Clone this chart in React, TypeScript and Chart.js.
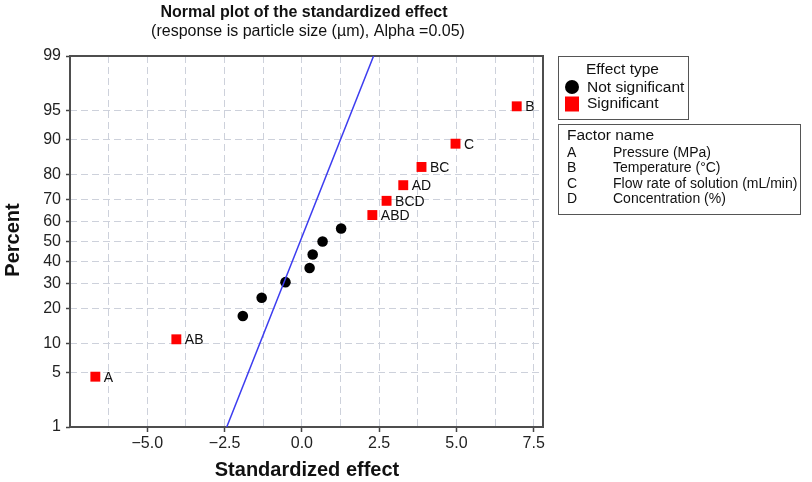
import { useEffect, useRef } from 'react';
import { Chart, registerables } from 'chart.js';

Chart.register(...registerables);

// Significant effects (labelled red squares)
const sigLabels = ['A', 'AB', 'ABD', 'BCD', 'AD', 'BC', 'C', 'B'];
const sigEffects = [-6.68, -4.06, 2.28, 2.74, 3.28, 3.87, 4.97, 6.95];
const sigPercents = [4.5, 11.0, 63.0, 69.5, 76.0, 82.5, 89.0, 95.5];

// Non-significant effects (black dots)
const nsEffects = [-1.91, -1.3, -0.53, 0.25, 0.35, 0.67, 1.27];
const nsPercents = [17.5, 24.0, 30.5, 37.0, 43.5, 50.0, 56.5];

// Reference line endpoints
const fitEffects = [-2.43, 2.32];
const fitPercents = [1, 99];

// Axis ticks
const yTickPercents = [1, 5, 10, 20, 30, 40, 50, 60, 70, 80, 90, 95, 99];
const xGridValues = [-6.25, -5, -3.75, -2.5, -1.25, 0, 1.25, 2.5, 3.75, 5, 6.25, 7.5];
const xTickLabels = [-5, -2.5, 0, 2.5, 5, 7.5];

// Factor legend
const factorCodes = ['A', 'B', 'C', 'D'];
const factorNames = ['Pressure (MPa)', 'Temperature (\u00B0C)', 'Flow rate of solution (mL/min)', 'Concentration (%)'];

const FONT = '"Liberation Sans", Arial, Helvetica, sans-serif';
const GRID = '#cdd1db';

// Inverse of the standard normal CDF (Acklam), for the probability axis
function probit(pct: number): number {
  const p = pct / 100;
  const a = [-3.969683028665376e1, 2.209460984245205e2, -2.759285104469687e2, 1.38357751867269e2, -3.066479806614716e1, 2.506628277459239];
  const b = [-5.447609879822406e1, 1.615858368580409e2, -1.556989798598866e2, 6.680131188771972e1, -1.328068155288572e1];
  const c = [-7.784894002430293e-3, -3.223964580411365e-1, -2.400758277161838, -2.549732539343734, 4.374664141464968, 2.938163982698783];
  const d = [7.784695709041462e-3, 3.224671290700398e-1, 2.445134137142996, 3.754408661907416];
  const pl = 0.02425;
  if (p < pl) {
    const q = Math.sqrt(-2 * Math.log(p));
    return (((((c[0] * q + c[1]) * q + c[2]) * q + c[3]) * q + c[4]) * q + c[5]) / ((((d[0] * q + d[1]) * q + d[2]) * q + d[3]) * q + 1);
  }
  if (p <= 1 - pl) {
    const q = p - 0.5;
    const r = q * q;
    return ((((((a[0] * r + a[1]) * r + a[2]) * r + a[3]) * r + a[4]) * r + a[5]) * q) / (((((b[0] * r + b[1]) * r + b[2]) * r + b[3]) * r + b[4]) * r + 1);
  }
  const q = Math.sqrt(-2 * Math.log(1 - p));
  return -(((((c[0] * q + c[1]) * q + c[2]) * q + c[3]) * q + c[4]) * q + c[5]) / ((((d[0] * q + d[1]) * q + d[2]) * q + d[3]) * q + 1);
}

const isLabeledX = (v: number) => xTickLabels.some((t) => Math.abs(t - v) < 1e-6);
const fmtX = (v: number) => (v < 0 ? '\u2212' : '') + Math.abs(v).toFixed(1);

const frameAndText = {
  id: 'frameAndText',
  beforeDatasetsDraw(chart: any) {
    const { ctx, chartArea: a } = chart;
    ctx.save();
    ctx.strokeStyle = '#4e4e4e';
    ctx.lineWidth = 2;
    ctx.strokeRect(a.left, a.top, a.right - a.left, a.bottom - a.top);
    ctx.restore();
  },
  afterDatasetsDraw(chart: any) {
    const { ctx } = chart;
    const meta = chart.getDatasetMeta(2);
    ctx.save();
    ctx.fillStyle = '#111';
    ctx.font = `14px ${FONT}`;
    ctx.textAlign = 'left';
    ctx.textBaseline = 'middle';
    meta.data.forEach((el: any, i: number) => {
      ctx.fillText(sigLabels[i], el.x + 8.5, el.y + 1);
    });
    ctx.restore();
  },
  afterDraw(chart: any) {
    const { ctx } = chart;
    ctx.save();
    ctx.fillStyle = '#111';
    ctx.textBaseline = 'middle';
    ctx.textAlign = 'center';

    // Titles
    ctx.font = `bold 16px ${FONT}`;
    ctx.fillText('Normal plot of the standardized effect', 304, 12.5);
    ctx.font = `16px ${FONT}`;
    ctx.fillText('(response is particle size (\u00B5m), Alpha =0.05)', 308, 32);

    // Axis titles
    ctx.font = `bold 20px ${FONT}`;
    ctx.fillText('Standardized effect', 307, 470);
    ctx.save();
    ctx.translate(13, 240);
    ctx.rotate(-Math.PI / 2);
    ctx.fillText('Percent', 0, 0);
    ctx.restore();

    // Effect type legend
    ctx.strokeStyle = '#555';
    ctx.lineWidth = 1;
    ctx.strokeRect(558.5, 56.5, 130, 63);
    ctx.textAlign = 'left';
    ctx.font = `15.5px ${FONT}`;
    ctx.fillText('Effect type', 586, 70);
    ctx.fillText('Not significant', 587, 87.5);
    ctx.fillText('Significant', 587, 104);
    ctx.fillStyle = '#000';
    ctx.beginPath();
    ctx.arc(572, 87, 7, 0, Math.PI * 2);
    ctx.fill();
    ctx.fillStyle = '#ff0000';
    ctx.fillRect(565, 96.5, 14, 15);

    // Factor name legend
    ctx.strokeRect(558.5, 124.5, 242, 90);
    ctx.fillStyle = '#111';
    ctx.font = `15.5px ${FONT}`;
    ctx.fillText('Factor name', 567, 136);
    ctx.font = `14px ${FONT}`;
    const rowY = [153, 168.5, 184, 199];
    factorCodes.forEach((code, i) => {
      ctx.fillText(code, 567, rowY[i]);
      ctx.fillText(factorNames[i], 613, rowY[i]);
    });
    ctx.restore();
  },
};

export default function App() {
  const canvasRef = useRef<HTMLCanvasElement | null>(null);

  useEffect(() => {
    if (!canvasRef.current) return;
    const chart = new Chart(canvasRef.current, {
      type: 'scatter',
      data: {
        datasets: [
          {
            type: 'line',
            label: 'Reference line',
            data: fitEffects.map((x, i) => ({ x, y: probit(fitPercents[i]) })),
            borderColor: '#3c3cf0',
            borderWidth: 1.5,
            pointRadius: 0,
            fill: false,
            tension: 0,
          } as any,
          {
            label: 'Not significant',
            data: nsEffects.map((x, i) => ({ x, y: probit(nsPercents[i]) })),
            pointStyle: 'circle',
            pointRadius: 5.3,
            backgroundColor: '#000',
            borderWidth: 0,
          },
          {
            label: 'Significant',
            data: sigEffects.map((x, i) => ({ x, y: probit(sigPercents[i]) })),
            pointStyle: 'rect',
            pointRadius: 7,
            backgroundColor: '#ff0000',
            borderWidth: 0,
          },
        ],
      },
      options: {
        animation: false,
        responsive: true,
        maintainAspectRatio: false,
        layout: { padding: { top: 56, right: 269, left: 0, bottom: 0 } },
        plugins: {
          legend: { display: false },
          tooltip: { enabled: false },
          title: { display: false },
        },
        scales: {
          x: {
            type: 'linear',
            min: -7.5,
            max: 7.8,
            afterFit: (s: any) => {
              s.height = 55;
            },
            afterBuildTicks: (s: any) => {
              s.ticks = xGridValues.map((v) => ({ value: v }));
            },
            ticks: {
              autoSkip: false,
              maxRotation: 0,
              padding: 2,
              color: '#222',
              font: { family: FONT, size: 16 },
              callback: (v: any) => (isLabeledX(Number(v)) ? fmtX(Number(v)) : ''),
            },
            grid: {
              color: GRID,
              lineWidth: 1,
              tickLength: 5,
              tickWidth: 1.5,
              tickColor: (c: any) => (c.tick && isLabeledX(c.tick.value) ? '#444' : 'rgba(0,0,0,0)'),
            },
            border: { display: false, dash: [7, 4] },
          },
          y: {
            type: 'linear',
            min: probit(1),
            max: probit(99),
            afterFit: (s: any) => {
              s.width = 70;
            },
            afterBuildTicks: (s: any) => {
              s.ticks = yTickPercents.map((p) => ({ value: probit(p) }));
            },
            ticks: {
              autoSkip: false,
              padding: 5,
              color: '#222',
              font: { family: FONT, size: 16 },
              callback: (_v: any, i: number) => String(yTickPercents[i]),
            },
            grid: {
              color: GRID,
              lineWidth: 1,
              tickLength: 4,
              tickWidth: 1.5,
              tickColor: '#444',
            },
            border: { display: false, dash: [7, 4] },
          },
        },
      },
      plugins: [frameAndText],
    });
    return () => chart.destroy();
  }, []);

  return (
    <div style={{ position: 'absolute', left: 0, top: 0, width: 812, height: 482, background: '#fff' }}>
      <canvas ref={canvasRef} />
    </div>
  );
}
